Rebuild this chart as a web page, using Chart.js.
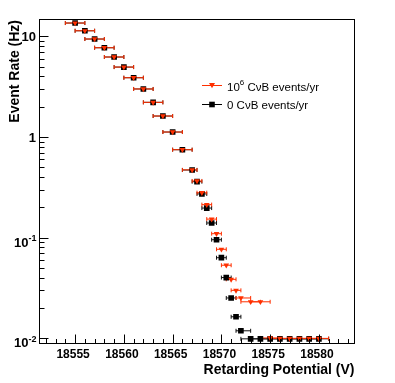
<!DOCTYPE html>
<html><head><meta charset="utf-8">
<script src="https://cdn.jsdelivr.net/npm/chart.js@4"></script>
<style>html,body{margin:0;padding:0;background:#fff;}#wrap{width:395px;height:383px;}</style>
</head><body><div id="wrap"><canvas id="c" width="395" height="383"></canvas></div>
<script>
// ---- data ----
const voltages = [18555,18556,18557,18558,18559,18560,18561,18562,18563,18564,18565,18566,18567,
  18567.5,18568,18568.5,18569,18569.5,18570,18570.5,18571,18571.5,18572,
  18573,18574,18575,18576,18577,18578,18579,18580];
const rate0 = [13.55,11.35,9.40,7.70,6.23,4.95,3.88,3.00,2.21,1.616,1.121,0.748,0.470,
  0.360,0.272,0.197,0.140,0.0955,0.0633,0.0402,0.0252,0.0164,0.0119,
  0.0099,0.0099,0.0099,0.0099,0.0099,0.0099,0.0099,0.0099];
const rate6 = [13.55,11.35,9.40,7.70,6.23,4.95,3.88,3.00,2.21,1.616,1.121,0.748,0.472,
  0.366,0.280,0.213,0.153,0.1096,0.0767,0.0533,0.0386,0.0300,0.0252,
  0.0231,0.0231,0.0101,0.0100,0.0100,0.0100,0.0100,0.0100];
const xErrLow  = [1,1,1,1,1,1,1,1,1,1,1,1,1, 0.5,0.5,0.5,0.5,0.5,0.5,0.5,0.5,0.5,0.5, 1,1,1,1,1,1,1,1];
const xErrHigh = [1,1,1,1,1,1,1,1,1,1,1,1,0.5, 0.5,0.5,0.5,0.5,0.5,0.5,0.5,0.5,0.5,1, 1,1,1,1,1,1,1,1];
const xTickValues = [18555,18560,18565,18570,18575,18580];
const xTickLabels = ['18555','18560','18565','18570','18575','18580'];
const yTickValues = [0.01,0.1,1,10];
const yTickBase = ['10','10','1','10'];
const yTickExp = ['-2','-1','',''];
const seriesLabels = ['10', '0 C\u03BDB events/yr'];
const X_MIN = 18551.4, X_MAX = 18583.7, Y_MIN = 0.008798, Y_MAX = 14.69;
const RED = '#ff3000';
const FONT = '"Liberation Sans", Arial, Helvetica, sans-serif';

const errBars = {
  id: 'errBars',
  beforeDatasetsDraw(chart) {
    const {ctx, chartArea: a, scales: {x, y}} = chart;
    ctx.save();
    ctx.beginPath(); ctx.rect(a.left, a.top, a.right - a.left, a.bottom - a.top); ctx.clip();
    ctx.lineWidth = 1;
    [[rate0, '#111'], [rate6, RED]].forEach(([vals, col]) => {
      ctx.strokeStyle = col;
      voltages.forEach((v, i) => {
        const py = y.getPixelForValue(vals[i]);
        const x1 = x.getPixelForValue(v - xErrLow[i]);
        const x2 = x.getPixelForValue(v + xErrHigh[i]);
        ctx.beginPath();
        ctx.moveTo(x1, py); ctx.lineTo(x2, py);
        ctx.moveTo(x1, py - 2); ctx.lineTo(x1, py + 2);
        ctx.moveTo(x2, py - 2); ctx.lineTo(x2, py + 2);
        ctx.stroke();
      });
    });
    ctx.restore();
  }
};

const axesFrame = {
  id: 'axesFrame',
  afterDraw(chart) {
    const {ctx, chartArea: a, scales: {x, y}} = chart;
    ctx.save();
    ctx.strokeStyle = '#000'; ctx.lineWidth = 1;
    const L = Math.round(a.left) - 0.5, R = Math.round(a.right) - 0.5;
    const T = Math.round(a.top) - 0.5, B = Math.round(a.bottom) - 0.5;
    ctx.strokeRect(L, T, R - L, B - T);
    // x ticks (inside)
    ctx.beginPath();
    for (let v = Math.ceil(X_MIN); v <= X_MAX; v++) {
      const px = Math.round(x.getPixelForValue(v)) + 0.5;
      const len = (v % 5 === 0) ? 9 : 4.5;
      ctx.moveTo(px, B); ctx.lineTo(px, B - len);
    }
    // y ticks (inside)
    for (let e = -3; e <= 2; e++) {
      for (let k = 1; k <= 9; k++) {
        const val = k * Math.pow(10, e);
        if (val < Y_MIN || val > Y_MAX) continue;
        const py = Math.round(y.getPixelForValue(val)) + 0.5;
        const len = (k === 1) ? 9 : 5;
        ctx.moveTo(L, py); ctx.lineTo(L + len, py);
      }
    }
    ctx.stroke();
    // x labels
    ctx.fillStyle = '#000';
    ctx.font = 'bold 12px ' + FONT;
    ctx.textAlign = 'center'; ctx.textBaseline = 'alphabetic';
    xTickValues.forEach((v, i) => {
      ctx.fillText(xTickLabels[i], x.getPixelForValue(v) - 2, 358);
    });
    // y labels
    const right = 36.5;
    yTickValues.forEach((v, i) => {
      const py = y.getPixelForValue(v);
      ctx.textAlign = 'right'; ctx.textBaseline = 'alphabetic';
      if (yTickExp[i]) {
        ctx.font = 'bold 9px ' + FONT;
        const w = ctx.measureText(yTickExp[i]).width;
        ctx.fillText(yTickExp[i], right, py + 3.5);
        ctx.font = 'bold 13px ' + FONT;
        ctx.fillText(yTickBase[i], right - w, py + 9);
      } else {
        ctx.font = 'bold 13px ' + FONT;
        ctx.fillText(yTickBase[i], right - 0.5, py + 5);
      }
    });
    // axis titles
    ctx.font = 'bold 14px ' + FONT;
    ctx.textAlign = 'right'; ctx.textBaseline = 'alphabetic';
    ctx.fillText('Retarding Potential (V)', 354.5, 373.5);
    ctx.save();
    ctx.translate(18.5, 20); ctx.rotate(-Math.PI / 2);
    ctx.fillText('Event Rate (Hz)', 0, 0);
    ctx.restore();
    // legend
    const rows = [
      {y: 85.5, color: RED, ds: 0},
      {y: 104.5, color: '#000', ds: 1}
    ];
    rows.forEach(r => {
      ctx.strokeStyle = r.color; ctx.lineWidth = 1;
      ctx.beginPath(); ctx.moveTo(202, r.y); ctx.lineTo(222, r.y); ctx.stroke();
      ctx.fillStyle = r.color;
      ctx.beginPath();
      if (r.ds === 0) {
        ctx.moveTo(209, r.y - 2.5); ctx.lineTo(215, r.y - 2.5); ctx.lineTo(212, r.y + 2.8); ctx.closePath();
      } else {
        ctx.rect(209.2, r.y - 2.8, 5.6, 5.6);
      }
      ctx.fill();
    });
    ctx.fillStyle = '#000';
    ctx.textAlign = 'left'; ctx.textBaseline = 'alphabetic';
    ctx.font = '11.5px ' + FONT;
    ctx.fillText(seriesLabels[0], 227, 90.5);
    let w0 = ctx.measureText(seriesLabels[0]).width;
    ctx.font = '8px ' + FONT;
    ctx.fillText('6', 227 + w0, 85);
    let w1 = ctx.measureText('6').width;
    ctx.font = '11.5px ' + FONT;
    ctx.fillText(' C\u03BDB events/yr', 227 + w0 + w1, 90.5);
    ctx.fillText(seriesLabels[1], 227, 109);
    ctx.restore();
  }
};

new Chart(document.getElementById('c'), {
  type: 'scatter',
  data: {
    datasets: [
      {
        label: '10^6 C\u03BDB events/yr',
        data: voltages.map((v, i) => ({x: v, y: rate6[i]})),
        pointStyle: 'triangle', rotation: 180, pointRadius: 3.3,
        backgroundColor: RED, borderColor: RED, borderWidth: 0, showLine: false
      },
      {
        label: '0 C\u03BDB events/yr',
        data: voltages.map((v, i) => ({x: v, y: rate0[i]})),
        pointStyle: 'rect', pointRadius: 4,
        backgroundColor: '#000', borderColor: '#000', borderWidth: 0, showLine: false
      }
    ]
  },
  options: {
    responsive: false, animation: false, devicePixelRatio: 1,
    layout: {padding: {left: 40, right: 40, top: 19.5, bottom: 39}},
    plugins: {legend: {display: false}, tooltip: {enabled: false}},
    scales: {
      x: {type: 'linear', min: X_MIN, max: X_MAX, display: false},
      y: {type: 'logarithmic', min: Y_MIN, max: Y_MAX, display: false}
    }
  },
  plugins: [errBars, axesFrame]
});
</script>
</body></html>
